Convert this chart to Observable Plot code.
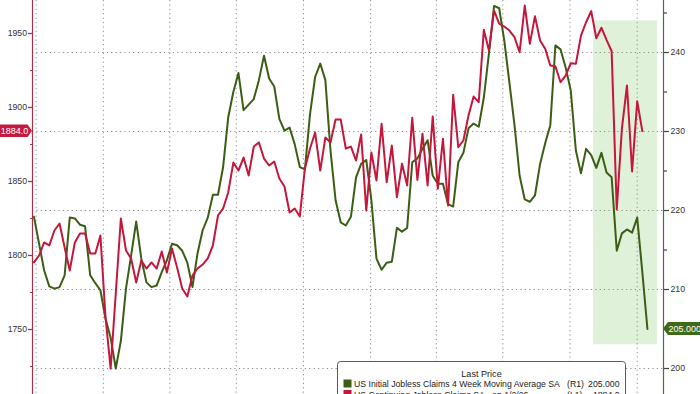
<!DOCTYPE html>
<html>
<head>
<meta charset="utf-8">
<script src="https://cdn.jsdelivr.net/npm/d3@7"></script>
<script src="https://cdn.jsdelivr.net/npm/@observablehq/plot@0.6"></script>
<style>
  body { margin: 0; background: #fff; }
  #chart { width: 700px; height: 394px; overflow: hidden; }
</style>
</head>
<body>
<div id="chart"></div>
<script>
// ---------- data (weekly, first observation 2023-09-28) ----------
const startDate = "2023-09-28";
// US Initial Jobless Claims 4 Week Moving Average SA (thousands, right axis)
const initialClaims4wk = [
  219.2,215.8,212.4,210.4,210.1,210.3,211.8,219.1,219.0,218.2,
  218.0,211.8,210.8,209.9,206.3,203.9,200.0,203.5,210.1,214.3,
  218.6,213.9,210.9,210.3,210.5,212.2,213.7,215.8,215.6,214.9,
  213.4,210.3,214.6,217.5,219.1,222.0,222.0,225.5,231.8,235.0,
  237.4,232.7,233.4,234.1,236.5,239.6,236.7,235.7,231.6,230.1,
  230.5,228.4,225.5,225.2,232.2,236.9,238.6,236.5,227.6,221.3,
  218.5,218.1,219.2,224.2,225.9,226.4,221.3,213.9,212.5,213.4,
  213.5,217.8,217.3,217.8,226.1,226.6,227.8,228.9,224.4,223.4,
  223.4,220.8,220.5,226.1,227.3,230.4,231.0,230.6,234.3,239.9,
  245.9,245.6,241.5,236.2,230.8,224.4,221.4,221.1,221.9,225.9,
  228.5,230.8,240.9,240.4,238.1,235.2,227.6,224.7,227.8,227.0,
  225.4,227.3,224.8,224.2,214.9,217.1,217.6,217.2,219.1,212.2,
  205.0
];
// US Continuing Jobless Claims SA (thousands, left axis)
const continuingClaims = [
  1795.3,1800.0,1808.8,1806.8,1816.9,1821.6,1805.4,1789.9,1808.8,1814.9,
  1814.9,1801.4,1801.4,1813.5,1758.1,1723.6,1774.3,1825.0,1803.4,1798.0,
  1781.8,1796.6,1791.2,1795.3,1791.2,1802.7,1788.5,1804.7,1791.9,1777.7,
  1772.3,1786.5,1791.2,1793.9,1798.0,1806.8,1827.0,1831.8,1842.6,1862.8,
  1857.4,1866.2,1854.1,1873.6,1876.4,1865.5,1860.8,1863.5,1852.0,1846.6,
  1829.1,1831.8,1826.4,1858.8,1872.3,1883.1,1857.4,1879.7,1876.4,1891.9,
  1891.9,1872.3,1873.6,1864.2,1881.8,1830.4,1869.6,1850.7,1889.0,1849.5,
  1874.3,1839.4,1862.0,1847.3,1893.0,1851.1,1882.2,1847.3,1893.9,1845.1,
  1878.9,1833.8,1908.6,1873.2,1877.7,1894.6,1907.4,1903.6,1952.5,1938.5,
  1965.5,1956.6,1954.7,1952.0,1947.5,1937.4,1968.9,1943.0,1961.7,1945.3,
  1939.7,1928.4,1927.9,1917.1,1921.6,1929.9,1929.5,1948.6,1957.6,1965.1,
  1946.8,1953.9,1945.7,1938.0,1831.1,1885.6,1914.9,1856.8,1904.3,1884.0
];
const quarterTicks = ["2023-10-01","2024-01-01","2024-04-01","2024-07-01","2024-10-01",
                      "2025-01-01","2025-04-01","2025-07-01","2025-10-01","2026-01-01"];
const leftTicks  = [1750, 1800, 1850, 1900, 1950];
const leftMinor  = [1725, 1775, 1825, 1875, 1925];
const rightTicks = [200, 210, 220, 230, 240];
const rightMinor = [205, 215, 225, 235, 245];
const highlight  = [{start: "2025-11-02", end: "2026-01-29", low: 203, high: 244}];
const legendTitle = "Last Price";
const seriesNames = ["US Initial Jobless Claims 4 Week Moving Average SA", "US Continuing Jobless Claims SA - on 1/2/26"];
const seriesAxes  = ["(R1)", "(L1)"];

// ---------- styling ----------
const GREEN = "#3b5e14", RED = "#c6163c";
const GREEN_BOX = "#3f6a1c", RED_BOX = "#c41a3e";
const LEFT_AXIS = "#a3324a", RIGHT_AXIS = "#55693a";
const GRID = "#8c8c8c";
const FONT = "'Liberation Sans', Arial, sans-serif";
const FS = 8.7;

const W = 700, H = 394, ML = 32, MR = 37;
const xDomain = [new Date("2023-09-26"), new Date("2026-02-06")];
// dual-axis alignment: left axis 1750 -> px 329, 1950 -> px 33 ; right axis 200 -> 368, 240 -> 52
const pxToRight = d3.scaleLinear([368, 52], [200, 240]);
const leftToRight = d3.scaleLinear([1750, 1950], [pxToRight(329), pxToRight(33)]);

const week0 = new Date(startDate);
const greenData = initialClaims4wk.map((v, i) => ({date: d3.utcDay.offset(week0, 7 * i), v}));
const redData = continuingClaims.map((v, i) => ({date: d3.utcDay.offset(week0, 7 * i), v: leftToRight(v), raw: v}));

const plot = Plot.plot({
  width: W, height: H,
  marginLeft: ML, marginRight: MR, marginTop: 0, marginBottom: 0,
  style: {fontFamily: FONT, fontSize: FS + "px", background: "#fff", color: "#333", overflow: "visible"},
  x: {type: "utc", domain: xDomain, axis: null},
  y: {domain: [200, 240], range: [368, 52], label: null},
  marks: [
    Plot.rect(highlight, {x1: d => new Date(d.start), x2: d => new Date(d.end), y1: "low", y2: "high", fill: "#e0f1d9"}),
    Plot.ruleX(quarterTicks.map(d => new Date(d)), {stroke: GRID, strokeDasharray: "1.2,3.2", strokeWidth: 1}),
    Plot.ruleY(rightTicks, {stroke: GRID, strokeDasharray: "1.2,3.2", strokeWidth: 1}),
    Plot.line(greenData, {x: "date", y: "v", stroke: GREEN, strokeWidth: 2, strokeLinejoin: "round"}),
    Plot.line(redData, {x: "date", y: "v", stroke: RED, strokeWidth: 2, strokeLinejoin: "round"}),
    Plot.ruleX([xDomain[0]], {stroke: LEFT_AXIS, strokeWidth: 1.2}),
    Plot.ruleX([xDomain[1]], {stroke: RIGHT_AXIS, strokeWidth: 1.2}),
    Plot.axisY({anchor: "left", label: null, ticks: leftTicks.map(leftToRight),
      tickFormat: d => d3.format("d")(Math.round(leftToRight.invert(d))),
      tickSize: 4, tickPadding: 1.5, stroke: LEFT_AXIS, fill: "#333", strokeWidth: 1.3}),
    Plot.axisY({anchor: "left", label: null, ticks: leftMinor.map(leftToRight), tickFormat: () => "",
      tickSize: 2, stroke: LEFT_AXIS, strokeWidth: 1.2}),
    Plot.axisY({anchor: "right", label: null, ticks: rightTicks, tickFormat: d3.format("d"),
      tickSize: 5, tickPadding: 2, stroke: "#444", fill: "#333", strokeWidth: 1.2}),
    Plot.axisY({anchor: "right", label: null, ticks: rightMinor, tickFormat: () => "",
      tickSize: 3, stroke: "#444", strokeWidth: 1.2})
  ]
});

document.getElementById("chart").appendChild(plot);

// ---------- last-value labels and legend ----------
const svg = d3.select(plot);
const xs = plot.scale("x"), ys = plot.scale("y");
const leftX = xs.apply(xDomain[0]), rightX = xs.apply(xDomain[1]);
const lastRed = continuingClaims[continuingClaims.length - 1];
const lastGreen = initialClaims4wk[initialClaims4wk.length - 1];
const redTxt = d3.format(".1f")(lastRed), greenTxt = d3.format(".3f")(lastGreen);

const ann = svg.append("g").attr("font-family", FONT).attr("font-size", (FS + 0.3) + "px").attr("text-anchor", "start");
const cr = ys.apply(leftToRight(lastRed));
ann.append("path")
  .attr("d", `M0,${cr - 6.2}H${leftX - 4.5}L${leftX},${cr}L${leftX - 4.5},${cr + 6.2}H0Z`)
  .attr("fill", RED_BOX);
ann.append("text").attr("x", (leftX - 4) / 2 + 0.5).attr("y", cr).attr("dy", "0.35em")
  .attr("text-anchor", "middle").attr("fill", "#fff").text(redTxt);

const cg = ys.apply(lastGreen);
ann.append("path")
  .attr("d", `M${rightX},${cg}L${rightX + 5},${cg - 6.5}H${W}V${cg + 6.5}H${rightX + 5}Z`)
  .attr("fill", GREEN_BOX);
ann.append("text").attr("x", rightX + 5.5).attr("y", cg).attr("dy", "0.35em")
  .attr("text-anchor", "start").attr("fill", "#fff").text(greenTxt);

// legend box (cut by the bottom edge, as in the reference)
const lg = svg.append("g").attr("font-family", FONT).attr("font-size", FS + "px")
  .attr("fill", "#222").attr("text-anchor", "start");
lg.append("rect").attr("x", 337.5).attr("y", 361.5).attr("width", 288).attr("height", 50)
  .attr("rx", 3).attr("fill", "#fff").attr("stroke", "#5a5a5a").attr("stroke-width", 1);
lg.append("text").attr("x", 481.5).attr("y", 377).attr("text-anchor", "middle")
  .attr("font-size", (FS + 0.4) + "px").text(legendTitle);
const rows = [
  {color: GREEN, name: seriesNames[0], axis: seriesAxes[0], value: greenTxt, y: 387},
  {color: RED, name: seriesNames[1], axis: seriesAxes[1], value: redTxt, y: 397.5}
];
rows.forEach(r => {
  lg.append("rect").attr("x", 343.5).attr("y", r.y - 7.5).attr("width", 8).attr("height", 8).attr("fill", r.color);
  lg.append("text").attr("x", 354).attr("y", r.y).attr("text-anchor", "start").text(r.name);
  lg.append("text").attr("x", 567).attr("y", r.y).attr("text-anchor", "start").text(r.axis);
  lg.append("text").attr("x", 619.5).attr("y", r.y).attr("text-anchor", "end").text(r.value);
});
</script>
</body>
</html>
